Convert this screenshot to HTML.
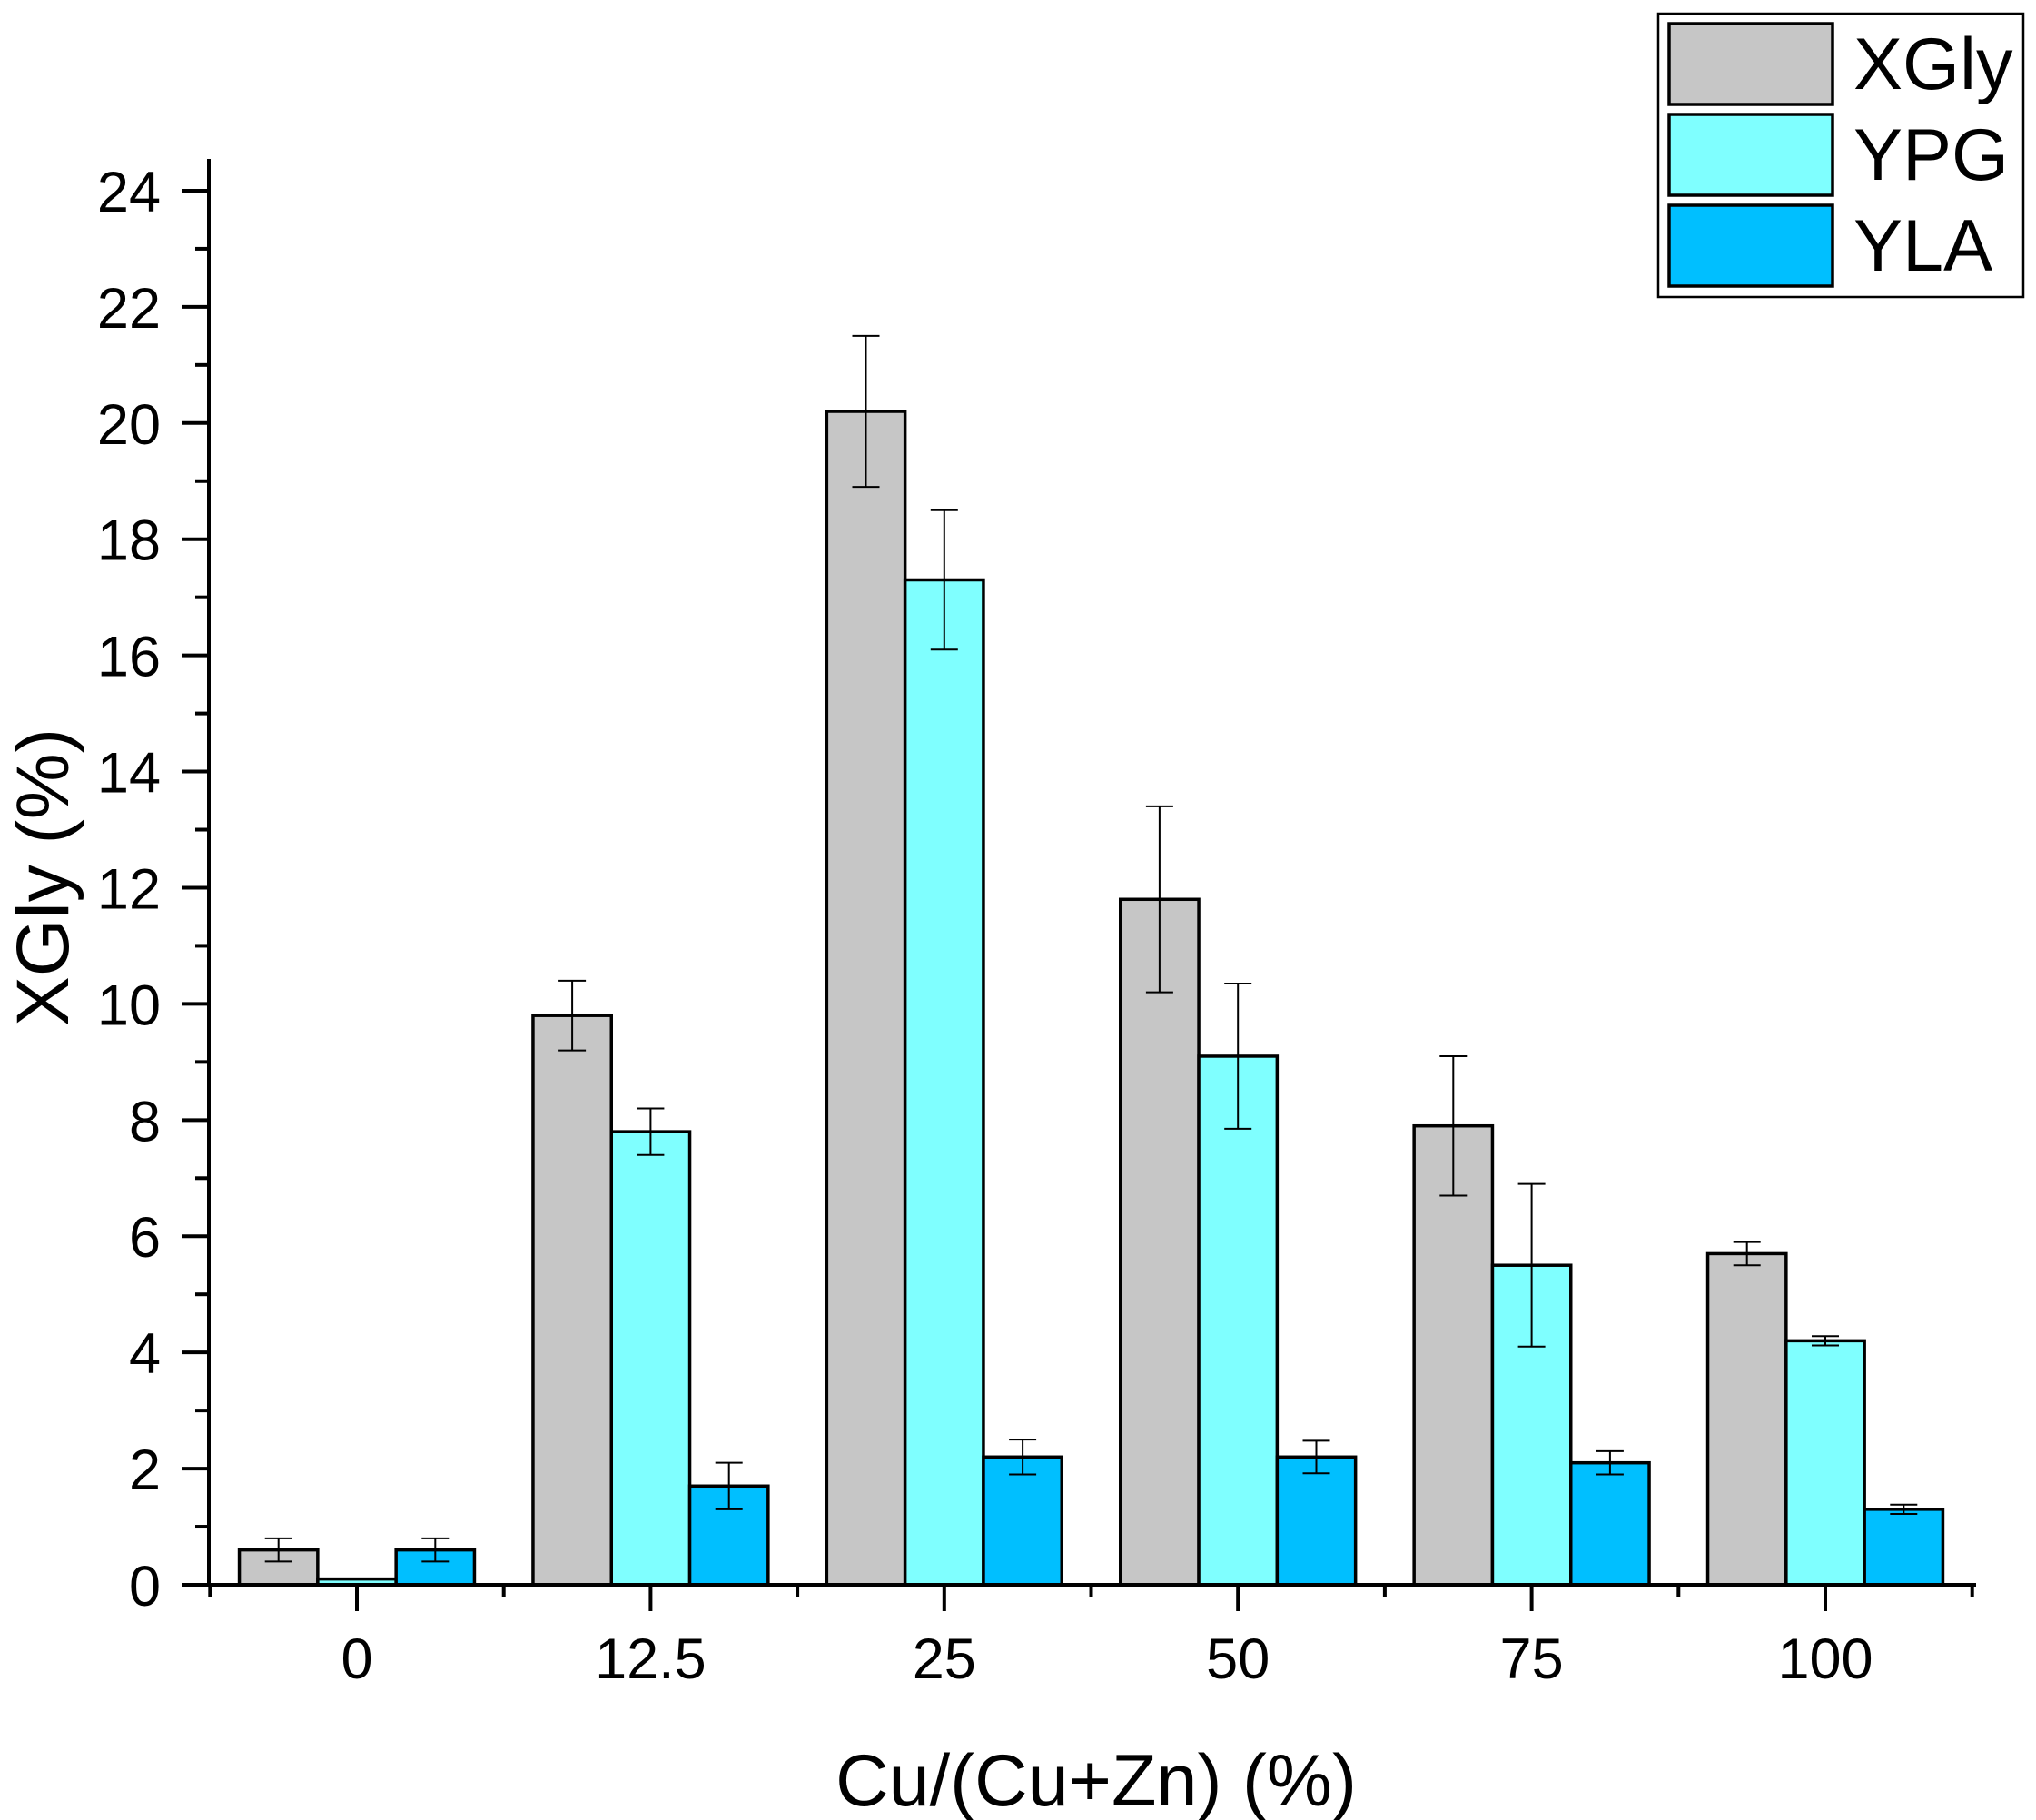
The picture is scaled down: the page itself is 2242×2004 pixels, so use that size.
<!DOCTYPE html>
<html><head><meta charset="utf-8"><style>
html,body{margin:0;padding:0;background:#fff;}
svg{display:block;font-family:"Liberation Sans",Arial,sans-serif;}
</style></head><body>
<svg id="s" width="2242" height="2004" viewBox="0 0 2242 2004" xmlns="http://www.w3.org/2000/svg">
<rect width="2242" height="2004" fill="#fff"/>
<g id="bars"></g>
<g id="axes" stroke="#000" stroke-width="4"></g>
<g id="labels" font-size="63" fill="#000"></g>
<text x="1207" y="1988" font-size="81" text-anchor="middle">Cu/(Cu+Zn) (%)</text>
<text transform="translate(75,966) rotate(-90)" font-size="82" text-anchor="middle">XGly (%)</text>
<rect x="1826" y="15" width="402" height="312" fill="#fff" stroke="#000" stroke-width="2.5"/>
<rect x="1838" y="26" width="180" height="89" fill="#c6c6c6" stroke="#000" stroke-width="3.5"/>
<rect x="1838" y="126" width="180" height="89" fill="#7fffff" stroke="#000" stroke-width="3.5"/>
<rect x="1838" y="226" width="180" height="89" fill="#00bfff" stroke="#000" stroke-width="3.5"/>
<text x="2041" y="98" font-size="81">XGly</text>
<text x="2041" y="198" font-size="81">YPG</text>
<text x="2041" y="298" font-size="81">YLA</text>
</svg>
<script>
var NS="http://www.w3.org/2000/svg";
function el(p,t,a,txt){var e=document.createElementNS(NS,t);for(var k in a)e.setAttribute(k,a[k]);if(txt!==undefined)e.textContent=txt;document.getElementById(p).appendChild(e);}
var y0=1745,u=63.96,x0=393,sp=323.4,bw=86.3;
function Y(v){return y0-v*u;}
var data=[[[0.6,0.2],[0.1,0],[0.6,0.2]],[[9.8,0.6],[7.8,0.4],[1.7,0.4]],[[20.2,1.3],[17.3,1.2],[2.2,0.3]],[[11.8,1.6],[9.1,1.25],[2.2,0.28]],[[7.9,1.2],[5.5,1.4],[2.1,0.2]],[[5.7,0.2],[4.2,0.08],[1.3,0.08]]];
var cols=["#c6c6c6","#7fffff","#00bfff"],cats=["0","12.5","25","50","75","100"];
data.forEach(function(g,i){var c=x0+i*sp;g.forEach(function(d,j){var x=c-1.5*bw+j*bw;el("bars","rect",{x:x,y:Y(d[0]),width:bw,height:d[0]*u,fill:cols[j],stroke:"#000","stroke-width":3.5});
if(d[1]>0){var cx=x+bw/2;el("bars","line",{x1:cx,x2:cx,y1:Y(d[0]+d[1]),y2:Y(d[0]-d[1]),stroke:"#000","stroke-width":2});
[d[0]+d[1],d[0]-d[1]].forEach(function(v){el("bars","line",{x1:cx-15,x2:cx+15,y1:Y(v),y2:Y(v),stroke:"#000","stroke-width":2});});}});
el("labels","text",{x:c,y:1848,"text-anchor":"middle"},cats[i]);
el("axes","line",{x1:c,x2:c,y1:y0,y2:1774});
el("axes","line",{x1:c-sp/2,x2:c-sp/2,y1:y0,y2:1758});});
el("axes","line",{x1:x0+5.5*sp,x2:x0+5.5*sp,y1:y0,y2:1758});
el("axes","line",{x1:230,x2:230,y1:175,y2:y0+2});
el("axes","line",{x1:200,x2:2176,y1:y0,y2:y0});
for(var v=0;v<=24;v++){var y=Y(v);if(v%2==0){el("axes","line",{x1:200,x2:230,y1:y,y2:y});el("labels","text",{x:177,y:y+23,"text-anchor":"end"},String(v));}else el("axes","line",{x1:215,x2:230,y1:y,y2:y});}
</script>
</body></html>
